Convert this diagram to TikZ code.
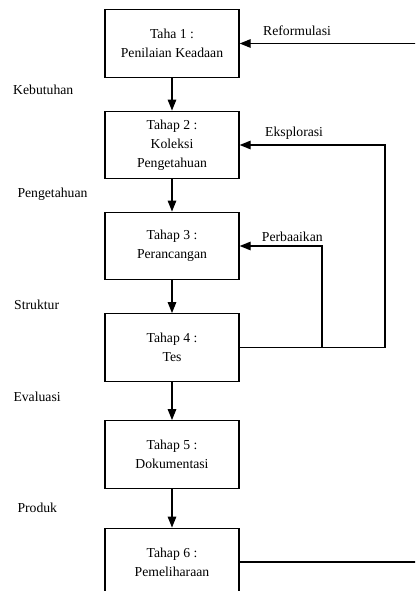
\documentclass[tikz,border=0pt]{standalone}
\usepackage{fontspec}
\setmainfont{Liberation Serif}
\usetikzlibrary{arrows.meta}
\begin{document}
\begin{tikzpicture}[x=1pt,y=-1pt,
  stagebox/.style={draw, line width=1.3pt, minimum width=134pt, minimum height=67.5pt, inner sep=0pt, align=center, font=\fontsize{13.7}{19}\selectfont},
  sidelabel/.style={anchor=base west, inner sep=0pt, font=\fontsize{13.7}{19}\selectfont},
  conn/.style={line width=1.3pt},
  arr/.style={conn, -{Triangle[length=11pt,width=8.5pt]}}]
\useasboundingbox (0,0) rectangle (415,591);
\clip (0,0) rectangle (415,591);
\node[stagebox] (b1) at (172,43.5) {Taha 1 :\\Penilaian Keadaan};
\node[stagebox] (b2) at (172,145) {Tahap 2 :\\Koleksi\\Pengetahuan};
\node[stagebox] (b3) at (172,246) {Tahap 3 :\\Perancangan};
\node[stagebox] (b4) at (172,347.5) {Tahap 4 :\\Tes};
\node[stagebox] (b5) at (172,454.5) {Tahap 5 :\\Dokumentasi};
\node[stagebox] (b6) at (172,562) {Tahap 6 :\\Pemeliharaan};
\node[sidelabel] (l1) at (13,95) {Kebutuhan};
\node[sidelabel] (l2) at (17.3,197.3) {Pengetahuan};
\node[sidelabel] (l3) at (14,309) {Struktur};
\node[sidelabel] (l4) at (13.3,401.5) {Evaluasi};
\node[sidelabel] (l5) at (17.3,512.5) {Produk};
\node[sidelabel] (lr) at (263,36) {Reformulasi};
\node[sidelabel] (le) at (265,136) {Eksplorasi};
\node[sidelabel] (lp) at (261.7,241.7) {Perbaaikan};
\coordinate (rtop) at (416,43.5);
\coordinate (rbot) at (416,562);
\coordinate (e1) at (385,347.5);
\coordinate (e2) at (385,145);
\coordinate (p1) at (322,347.5);
\coordinate (p2) at (322,246);
\draw[arr] (b1) -- (b2);
\draw[arr] (b2) -- (b3);
\draw[arr] (b3) -- (b4);
\draw[arr] (b4) -- (b5);
\draw[arr] (b5) -- (b6);
\draw[arr] (rtop) -- (b1.east);
\draw[arr] (b4.east) -- (e1) -- (e2) -- (b2.east);
\draw[arr] (p1) -- (p2) -- (b3.east);
\draw[conn] (b6.east) -- (rbot);
\end{tikzpicture}
\end{document}
